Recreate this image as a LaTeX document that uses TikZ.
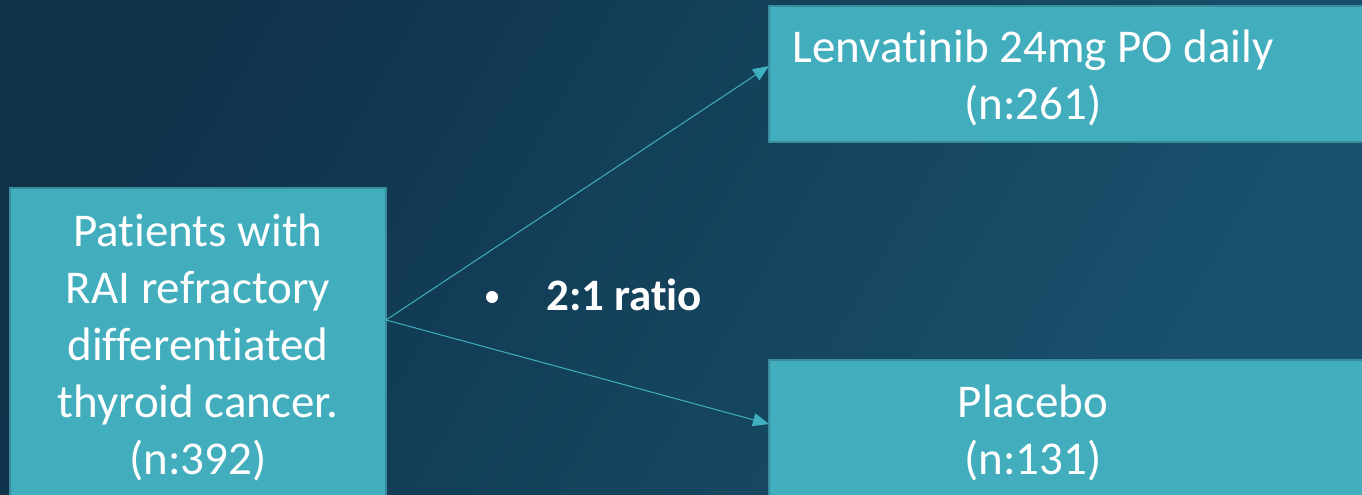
\documentclass[tikz,border=0pt]{standalone}
\usepackage{fontspec}
\setmainfont{Carlito}[Ligatures={NoCommon}]
\usetikzlibrary{arrows.meta}
\definecolor{bgA}{HTML}{0F3249}
\definecolor{bgB}{HTML}{19526E}
\definecolor{boxfill}{HTML}{42AEBD}
\definecolor{boxline}{HTML}{388C9B}
\definecolor{link}{HTML}{3FB0C0}
\tikzset{
  armbox/.style={fill=boxfill, draw=boxline, line width=2.5pt},
  armtext/.style={text=white, align=center, font=\fontsize{47}{57}\selectfont},
  link/.style={draw=link, line width=1pt, -{Triangle[length=16pt,width=13pt]}}
}
\begin{document}
\begin{tikzpicture}[x=1pt,y=-1pt]
  % background with a soft diagonal gradient, darker towards the top left
  \useasboundingbox (0,0) rectangle (1362,495);
  \shade[left color=bgA, right color=bgB, shading angle=60] (0,0) rectangle (1362,495);
  % boxes
  \path[armbox] (10,188) rectangle (386,505);
  \path[armbox] (769,6) rectangle (1372,142);
  \path[armbox] (769,360) rectangle (1372,505);
  % labels
  \node[armtext] (pop) at (198,347) {Patients with\\RAI refractory\\differentiated\\thyroid cancer.\\(n:392)};
  \node[armtext] (len) at (1033,78) {Lenvatinib 24mg PO daily\\(n:261)};
  \node[armtext] (pla) at (1033,433) {Placebo\\(n:131)};
  % branch point and arrow targets
  \coordinate (split) at (386,320);
  \coordinate (toLen) at (769,66);
  \coordinate (toPla) at (769,424);
  \draw[link] (split) -- (toLen);
  \draw[link] (split) -- (toPla);
  % ratio note
  \node[text=white, font=\fontsize{45}{48}\selectfont\bfseries, anchor=base west, inner sep=0pt] (ratio) at (546,310) {2:1 ratio};
  \fill[white] (492,297) circle (6pt);
\end{tikzpicture}
\end{document}
